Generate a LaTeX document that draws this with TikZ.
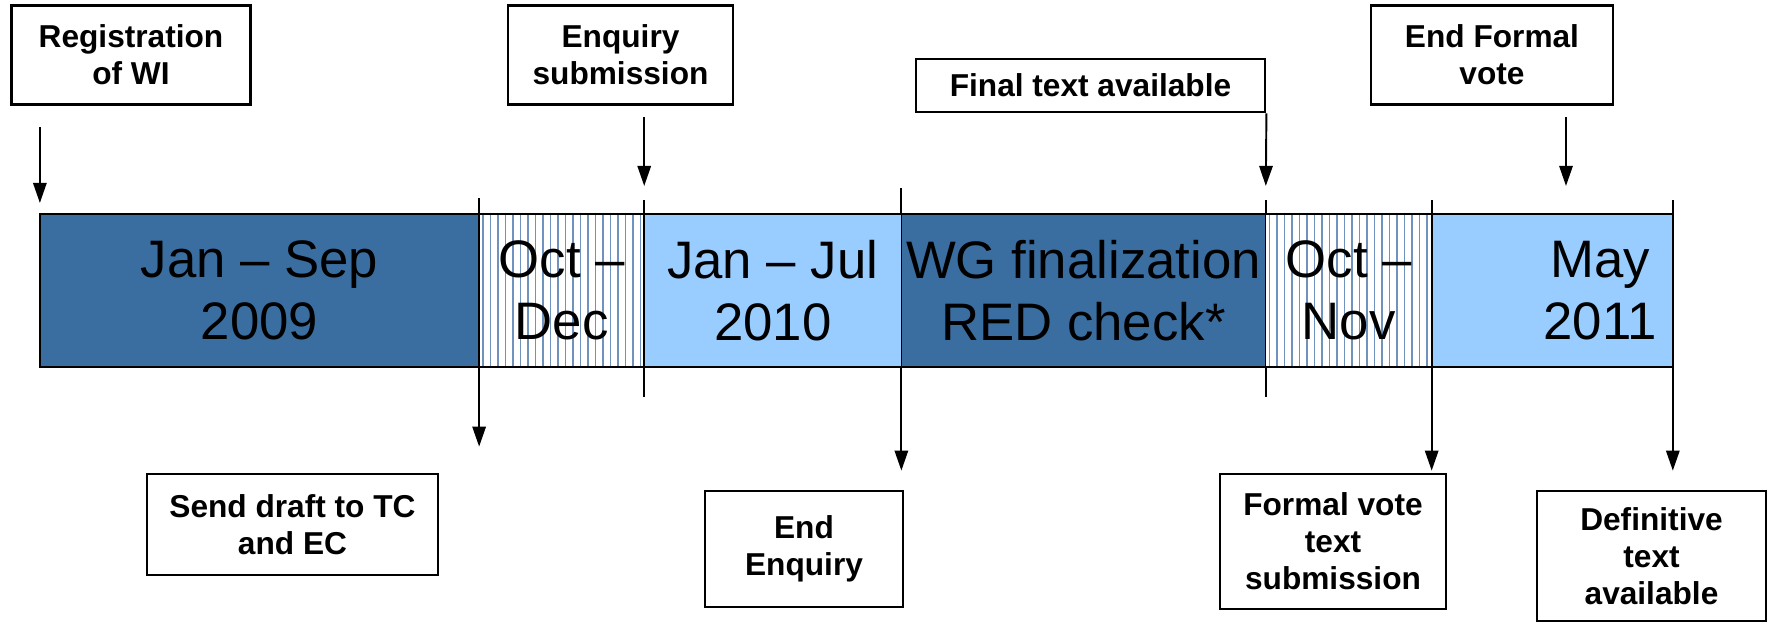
\documentclass[tikz,border=0pt]{standalone}
\usepackage{fontspec}
\setmainfont{Liberation Sans}
\usepackage{xcolor}
\usetikzlibrary{positioning,calc}
\usetikzlibrary{arrows.meta}
\definecolor{darkseg}{RGB}{59,110,160}
\definecolor{lightseg}{RGB}{153,204,255}
\definecolor{stripe}{RGB}{112,146,190}
\tikzset{>={Triangle[width=3.8pt,length=5.7pt]}}

\begin{document}
\begin{tikzpicture}[x=0.01cm, y=-0.01cm,
    box/.style={draw, line width=0.75pt, align=center, inner sep=0pt, font=\bfseries\fontsize{9}{10.5}\selectfont},
    seg/.style={draw, line width=0.5pt, minimum height=1.53cm, inner sep=0pt, outer sep=0pt, align=center, font=\fontsize{15}{17.6}\selectfont},
    hatch/.style={fill=white, path picture={
        \foreach \k in {0,...,22}
          \draw[stripe, line width=0.45pt] ($(path picture bounding box.north west)+(4+\k*7.5,0)$) -- ($(path picture bounding box.south west)+(4+\k*7.5,0)$);}},
    tick/.style={line width=0.55pt},
    every path/.style={line width=0.55pt}]
    \useasboundingbox (0,0) rectangle (1769,627);

    % timeline bar
    \node[seg, fill=darkseg, minimum width=4.39cm] (seg1) at (259.5,290.5) {Jan -- Sep\\2009};
    \node[seg, hatch, right=0pt of seg1, minimum width=1.65cm] (seg2) {Oct --\\Dec};
    \node[seg, fill=lightseg, right=0pt of seg2, minimum width=2.57cm] (seg3) {Jan -- Jul\\2010};
    \node[seg, fill=darkseg, right=0pt of seg3, minimum width=3.64cm] (seg4) {WG finalization\\RED check*};
    \node[seg, hatch, right=0pt of seg4, minimum width=1.66cm] (seg5) {Oct --\\Nov};
    \node[seg, fill=lightseg, right=0pt of seg5, minimum width=2.41cm] (seg6) {};
    \node[seg, draw=none, fill=none] (may) at ($(seg6.center)+(48,0)$) {May\\2011};

    % milestones above
    \node[box, minimum width=2.39cm, minimum height=0.99cm] (reg) at (131,55) {Registration\\of WI};
    \node[box, minimum width=2.25cm, minimum height=0.99cm] (enqsub) at (620.5,55) {Enquiry\\submission};
    \node[box, minimum width=3.49cm, minimum height=0.53cm] (final) at (1090.5,85.5) {Final text available};
    \node[box, minimum width=2.42cm, minimum height=0.99cm] (endvote) at (1492,55) {End Formal\\vote};

    % milestones below
    \node[box, minimum width=2.91cm, minimum height=1.01cm] (draft) at (292.5,524.5) {Send draft to TC\\and EC};
    \node[box, minimum width=1.98cm, minimum height=1.16cm] (endenq) at (804,549) {End\\Enquiry};
    \node[box, minimum width=2.26cm, minimum height=1.35cm] (votesub) at (1333,541.5) {Formal vote\\text\\submission};
    \node[box, minimum width=2.29cm, minimum height=1.30cm] (defin) at (1651.5,556) {Definitive\\text\\available};

    % ticks
    \draw[tick] (seg2.north west) -- ++(0,-16);
    \draw[tick] (seg3.north west) -- ++(0,-14);
    \draw[tick] (seg4.north west) -- ++(0,-26);
    \draw[tick] (seg5.north west) -- ++(0,-14);
    \draw[tick] (seg6.north west) -- ++(0,-14);
    \draw[tick] (seg6.north east) -- ++(0,-14);
    \draw[tick] (seg3.south west) -- ++(0,30);
    \draw[tick] (seg5.south west) -- ++(0,30);

    % arrows
    \coordinate (vote) at ($(endvote.south)+(74,0)$);
    \draw[->, shorten <=0.21cm, shorten >=0.11cm] (reg.south -| seg1.west) -- (seg1.north west);
    \draw[->, shorten <=0.11cm, shorten >=0.28cm] (enqsub.south -| seg3.west) -- (seg3.north west);
    \draw[->, shorten >=0.28cm] (final.south east) -- (seg5.north west);
    \draw[->, shorten <=0.11cm, shorten >=0.28cm] (vote) -- (vote |- seg6.north);
    \draw[->, shorten >=0.26cm] (seg2.south west) -- (seg2.south west |- draft.north);
    \draw[->, shorten >=0.19cm] (seg4.south west) -- (seg4.south west |- endenq.north);
    \draw[->, shorten >=0.02cm] (seg6.south west) -- (seg6.south west |- votesub.north);
    \draw[->, shorten >=0.19cm] (seg6.south east) -- (seg6.south east |- defin.north);
\end{tikzpicture}
\end{document}
